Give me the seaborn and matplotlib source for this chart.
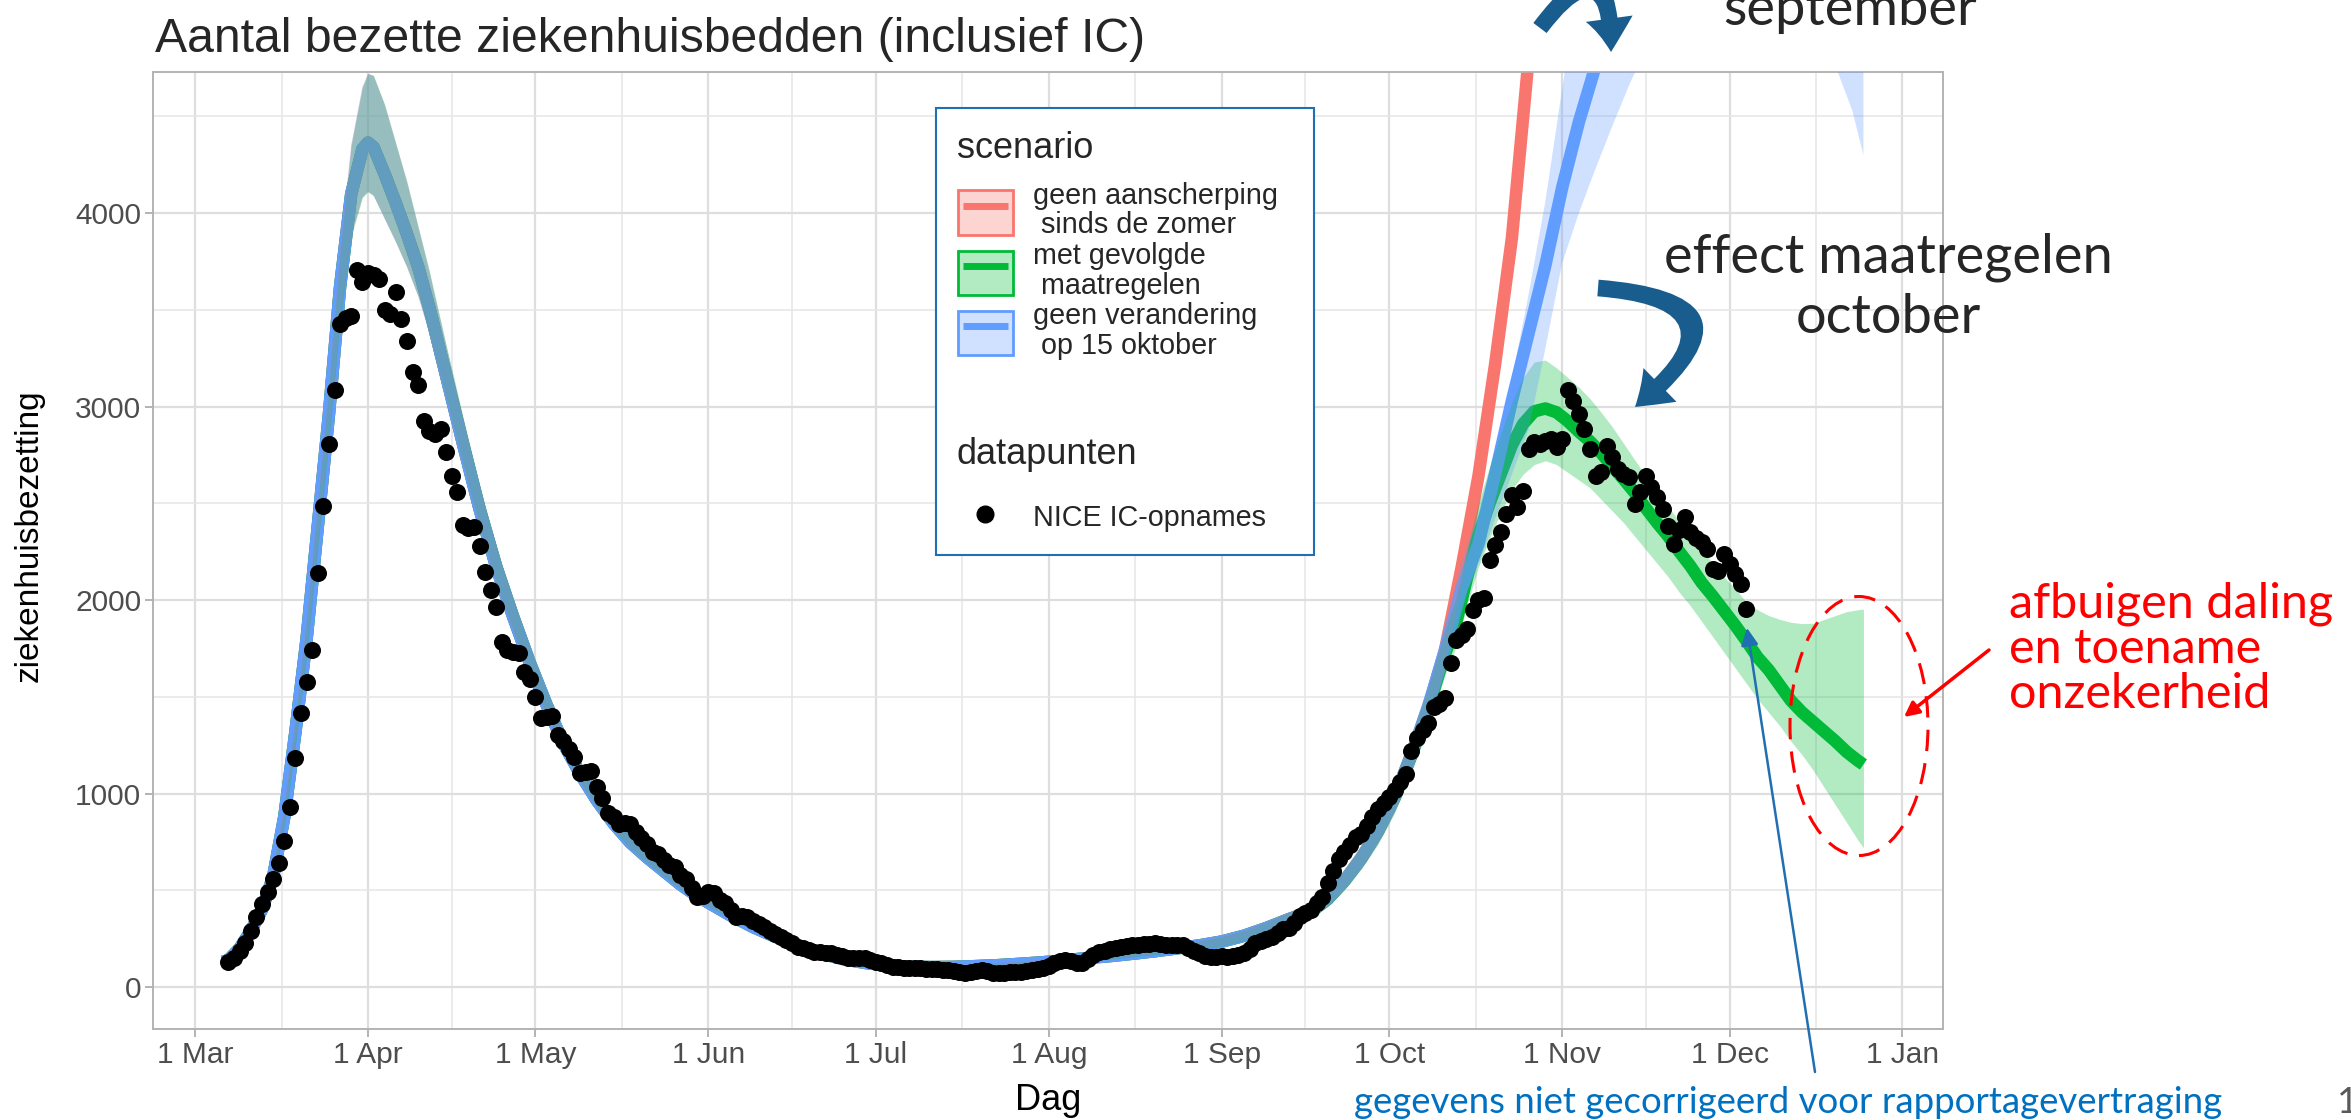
import pandas as pd
import seaborn as sns
import matplotlib.pyplot as plt
import matplotlib.dates as mdates
from matplotlib.colors import to_rgba
from matplotlib.lines import Line2D
from matplotlib.patches import Patch, Rectangle, Ellipse, FancyArrowPatch
from matplotlib.legend_handler import HandlerTuple, HandlerLine2D

W, H = 2351, 1120

# NICE IC-opnames, one value per day starting 7 March
nice_start = "2020-03-07"
nice_values = [
    130, 150, 185, 225, 290, 360, 430, 490, 560, 640,
    756, 931, 1182, 1415, 1578, 1741, 2139, 2485, 2806, 3087,
    3427, 3457, 3470, 3708, 3645, 3688, 3680, 3660, 3500, 3480,
    3590, 3450, 3340, 3180, 3110, 2925, 2875, 2860, 2885, 2765,
    2640, 2560, 2390, 2370, 2380, 2280, 2145, 2050, 1965, 1785,
    1740, 1730, 1725, 1630, 1590, 1500, 1390, 1395, 1400, 1300,
    1270, 1230, 1190, 1105, 1110, 1115, 1035, 975, 900, 880,
    840, 850, 845, 800, 768, 737, 699, 690, 656, 630,
    622, 578, 560, 510, 467, 470, 490, 484, 450, 433,
    400, 363, 365, 363, 340, 325, 312, 290, 275, 260,
    245, 225, 208, 200, 190, 182, 180, 176, 174, 168,
    160, 152, 148, 150, 148, 140, 131, 125, 115, 105,
    103, 100, 98, 97, 97, 95, 94, 92, 90, 88,
    85, 78, 71, 78, 85, 88, 82, 75, 71, 73,
    76, 78, 79, 84, 90, 95, 97, 110, 125, 135,
    140, 132, 125, 122, 145, 165, 182, 188, 195, 200,
    205, 212, 217, 217, 220, 223, 225, 222, 218, 217,
    215, 217, 200, 185, 174, 160, 157, 157, 158, 157,
    162, 168, 174, 195, 225, 240, 250, 260, 280, 300,
    303, 330, 368, 385, 398, 433, 467, 540, 600, 660,
    700, 733, 773, 790, 830, 880, 921, 951, 981, 1020,
    1060, 1099, 1218, 1287, 1326, 1366, 1445, 1465, 1494, 1672,
    1791, 1820, 1850, 1949, 1998, 2010, 2206, 2285, 2354, 2443,
    2542, 2482, 2561, 2781, 2816, 2808, 2824, 2833, 2790, 2833,
    3083, 3031, 2962, 2884, 2781, 2643, 2660, 2798, 2738, 2678,
    2650, 2634, 2497, 2560, 2643, 2583, 2531, 2471, 2385, 2290,
    2360, 2428, 2350, 2320, 2298, 2264, 2160, 2152, 2238, 2186,
    2135, 2083, 1954,
]

# model runs: day offsets from 1 March, shared part until early October
model_start = "2020-03-01"
shared_day = [5, 6, 8, 10, 12, 14, 16, 18, 20, 22,
              24, 26, 28, 30, 31, 32, 34, 36, 38, 40,
              42, 45, 48, 51, 54, 57, 60, 63, 66, 69,
              72, 75, 78, 81, 84, 87, 90, 93, 96, 100,
              104, 108, 112, 116, 120, 124, 128, 132, 136, 140,
              144, 148, 152, 156, 160, 164, 168, 172, 176, 180,
              184, 188, 192, 196, 200, 203, 206, 209, 212, 215]
shared_mid = [130, 140, 200, 290, 400, 570, 880, 1320, 1800, 2380,
              2960, 3620, 4100, 4330, 4364, 4340, 4200, 4050, 3890, 3720,
              3510, 3160, 2810, 2470, 2170, 1915, 1676, 1459, 1260, 1103,
              965, 846, 747, 670, 600, 530, 470, 420, 370, 310,
              260, 210, 175, 145, 125, 112, 105, 103, 104, 108,
              113, 120, 128, 138, 150, 160, 172, 185, 200, 215,
              235, 265, 305, 350, 390, 455, 550, 665, 805, 980]
shared_lo = [115, 124, 180, 265, 370, 530, 830, 1250, 1710, 2270,
             2820, 3440, 3880, 4080, 4110, 4090, 3970, 3850, 3720, 3570,
             3380, 3050, 2710, 2380, 2090, 1845, 1615, 1405, 1210, 1060,
             925, 810, 715, 640, 572, 505, 447, 400, 352, 294,
             246, 198, 165, 136, 117, 104, 97, 95, 96, 99,
             103, 109, 116, 125, 136, 145, 156, 168, 181, 194,
             212, 240, 277, 318, 355, 415, 502, 608, 738, 900]
shared_hi = [145, 156, 222, 318, 435, 615, 935, 1390, 1900, 2500,
             3110, 3800, 4350, 4650, 4720, 4710, 4560, 4360, 4160, 3930,
             3700, 3320, 2950, 2590, 2275, 2005, 1755, 1530, 1320, 1155,
             1010, 885, 782, 702, 630, 557, 494, 442, 390, 327,
             275, 223, 186, 155, 134, 121, 114, 112, 113, 118,
             124, 132, 141, 152, 165, 176, 189, 204, 221, 238,
             260, 292, 335, 385, 430, 500, 602, 728, 880, 1070]

red_day = [218, 221, 224, 227, 230, 233, 236, 239, 242, 246, 250, 260, 270, 280, 290, 299]
red_mid = [1200, 1440, 1740, 2170, 2640, 3220, 3870, 4800, 5800, 7200, 8600, 11000, 13000, 14000, 14500, 14800]
red_lo = [1110, 1350, 1640, 2060, 2510, 3070, 3690, 4580, 5500, 6800, 8100, 10300, 12100, 13000, 13400, 13600]
red_hi = [1300, 1540, 1850, 2290, 2780, 3380, 4060, 5030, 6100, 7600, 9100, 11700, 13900, 15000, 15600, 16000]

green_day = [218, 221, 224, 226, 228, 230, 232, 234, 236, 238,
             240, 242, 244, 246, 248, 250, 252, 254, 256, 258,
             260, 262, 264, 266, 268, 270, 272, 274, 276, 278,
             280, 282, 284, 286, 288, 290, 292, 294, 296, 298, 299]
green_mid = [1200, 1440, 1720, 1880, 2120, 2330, 2500, 2650, 2800, 2910,
             2975, 2990, 2970, 2925, 2870, 2820, 2760, 2690, 2625, 2555,
             2475, 2400, 2330, 2250, 2175, 2090, 2020, 1945, 1870, 1790,
             1705, 1640, 1560, 1480, 1420, 1370, 1320, 1270, 1215, 1170, 1150]
green_lo = [1110, 1340, 1610, 1760, 1980, 2170, 2320, 2450, 2570, 2650,
            2700, 2720, 2700, 2660, 2620, 2580, 2520, 2460, 2400, 2330,
            2260, 2190, 2120, 2040, 1970, 1890, 1810, 1730, 1650, 1570,
            1490, 1420, 1350, 1270, 1200, 1120, 1030, 940, 850, 760, 720]
green_hi = [1300, 1550, 1840, 2010, 2270, 2500, 2690, 2860, 3020, 3150,
            3230, 3240, 3200, 3150, 3100, 3040, 2970, 2895, 2810, 2725,
            2640, 2560, 2480, 2410, 2340, 2260, 2190, 2120, 2060, 1990,
            1950, 1920, 1900, 1885, 1878, 1880, 1900, 1920, 1940, 1950, 1953]

blue_day = [218, 221, 224, 227, 230, 233, 236, 239, 242, 245, 248, 251,
            254, 257, 260, 265, 270, 275, 280, 285, 290, 294, 297, 299]
blue_mid = [1200, 1450, 1740, 2060, 2290, 2650, 3030, 3380, 3730, 4130, 4470, 4760,
            5050, 5330, 5600, 6050, 6500, 6900, 7200, 7400, 7600, 7700, 7750, 7800]
blue_lo = [1110, 1350, 1640, 1980, 2180, 2420, 2650, 2880, 3300, 3740, 4000, 4230,
           4450, 4660, 4850, 5050, 5180, 5250, 5230, 5120, 4950, 4760, 4530, 4300]
blue_hi = [1300, 1560, 1860, 2200, 2450, 2780, 3140, 3580, 4060, 4640, 5200, 5800,
           6300, 6800, 7500, 8200, 9000, 9500, 10000, 10300, 10500, 10650, 10750, 10800]

scenario_labels = ["geen aanscherping\n sinds de zomer",
                   "met gevolgde\n maatregelen",
                   "geen verandering\n op 15 oktober"]
scenario_colors = ["#F8766D", "#00BA38", "#619CFF"]
scenario_parts = [(red_day, red_mid, red_lo, red_hi),
                  (green_day, green_mid, green_lo, green_hi),
                  (blue_day, blue_mid, blue_lo, blue_hi)]

# build one long table for seaborn
frames = []
for label, (d, m, lo, hi) in zip(scenario_labels, scenario_parts):
    frames.append(pd.DataFrame({
        "day": shared_day + d,
        "mid": shared_mid + m,
        "lo": shared_lo + lo,
        "hi": shared_hi + hi,
        "scenario": label,
    }))
model = pd.concat(frames, ignore_index=True)
model["date"] = pd.Timestamp(model_start) + pd.to_timedelta(model["day"], unit="D")

nice = pd.DataFrame({"date": pd.date_range(nice_start, periods=len(nice_values), freq="D"),
                     "value": nice_values})


def fx(px):
    return px / W


def fy(py):
    return 1 - py / H


class ShortLine(HandlerLine2D):
    # legend line a bit shorter than the key box, like ggplot
    def get_xdata(self, legend, xdescent, ydescent, width, height, fontsize):
        x0 = -xdescent + 0.09 * width
        x1 = -xdescent + 0.91 * width
        return [x0, x1], [(x0 + x1) / 2]


sns.set_theme(style="whitegrid")
plt.rcParams["font.family"] = ["Liberation Sans", "DejaVu Sans"]
note_font = ["Lato", "DejaVu Sans"]

fig = plt.figure(figsize=(W / 100, H / 100), dpi=100)
ax = fig.add_axes([fx(153), fy(1029), 1790 / W, 957 / H])
ax.set_facecolor("white")

palette = dict(zip(scenario_labels, scenario_colors))
sns.lineplot(data=model, x="date", y="mid", hue="scenario", hue_order=scenario_labels,
             palette=palette, estimator=None, sort=False, linewidth=9,
             legend=False, ax=ax, zorder=2, solid_capstyle="butt")
for label, color in zip(scenario_labels, scenario_colors):
    sub = model[model["scenario"] == label]
    ax.fill_between(sub["date"], sub["lo"], sub["hi"], color=color, alpha=0.3,
                    linewidth=0, zorder=3)
sns.scatterplot(data=nice, x="date", y="value", color="black", s=150, linewidth=0,
                ax=ax, zorder=5)

# axes, ticks and grid
t0 = pd.Timestamp(model_start)
ax.set_xlim(t0 - pd.Timedelta(days=7.53), t0 + pd.Timedelta(days=313.26))
ax.set_ylim(-217, 4729)
month_starts = pd.date_range("2020-03-01", "2021-01-01", freq="MS")
ax.xaxis.set_major_locator(mdates.MonthLocator(bymonthday=1))
ax.xaxis.set_major_formatter(mdates.DateFormatter("%-d %b"))
mids = [a + (b - a) / 2 for a, b in zip(month_starts[:-1], month_starts[1:])]
ax.xaxis.set_minor_locator(plt.FixedLocator(mdates.date2num(mids)))
ax.set_yticks([0, 1000, 2000, 3000, 4000])
ax.set_yticks([500, 1500, 2500, 3500, 4500], minor=True)
ax.grid(which="major", color="#DEDEDE", linewidth=1.6)
ax.grid(which="minor", color="#E6E6E6", linewidth=1.1)
ax.set_axisbelow(True)
ax.tick_params(which="major", length=5.5, width=1.4, color="#B3B3B3",
               labelsize=21.5, labelcolor="#4D4D4D", pad=3, bottom=True, left=True)
ax.tick_params(which="minor", length=0)
for sp in ax.spines.values():
    sp.set_color("#B3B3B3")
    sp.set_linewidth(1.4)

ax.set_xlabel("Dag", fontsize=26, color="black")
ax.set_ylabel("ziekenhuisbezetting", fontsize=24, color="black")
ax.xaxis.set_label_coords(0.5, (1029 - 1083) / 957)
ax.yaxis.set_label_coords((45 - 153) / 1790, 0.515)

fig.text(fx(155), fy(52), "Aantal bezette ziekenhuisbedden (inclusief IC)",
         fontsize=34.7, va="baseline")

# legend block
fig.add_artist(Rectangle((fx(936), fy(555)), 378 / W, 447 / H, transform=fig.transFigure,
                         facecolor="white", edgecolor="#1F6FB2", linewidth=1.5, zorder=4))
fig.text(fx(957), fy(148), "scenario", fontsize=26, va="center", zorder=6)
fig.text(fx(957), fy(455), "datapunten", fontsize=26, va="center", zorder=6)
handles = [(Patch(facecolor=to_rgba(c, 0.3), edgecolor=c, linewidth=2),
            Line2D([], [], color=c, linewidth=5, solid_capstyle="butt")) for c in scenario_colors]
leg1 = fig.legend(handles, scenario_labels, loc="upper left",
                  bbox_to_anchor=(fx(957.7), fy(182)), frameon=False, fontsize=20.7,
                  handlelength=1.92, handleheight=1.98, handletextpad=0.7,
                  labelspacing=0.1, borderpad=0, borderaxespad=0,
                  handler_map={tuple: HandlerTuple(ndivide=1, pad=0), Line2D: ShortLine()})
for t in leg1.get_texts():
    t.set_linespacing(1.06)
leg1.set_zorder(6)
dot = Line2D([], [], marker="o", color="black", linestyle="", markersize=12)
leg2 = fig.legend([dot], ["NICE IC-opnames"], loc="upper left",
                  bbox_to_anchor=(fx(957.7), fy(503)), frameon=False, fontsize=20.7,
                  handlelength=1.92, handleheight=1.0, handletextpad=0.7,
                  borderpad=0, borderaxespad=0)
leg2.set_zorder(6)

# annotations
arrow_blue = "#195C8E"
fig.text(fx(1850), fy(25), "september", fontsize=39, family=note_font, ha="center", va="baseline")
fig.text(fx(1888), fy(273), "effect maatregelen", fontsize=39, family=note_font, ha="center", va="baseline")
fig.text(fx(1888), fy(333), "october", fontsize=39, family=note_font, ha="center", va="baseline")
for a, b, rad in [((1540, 28), (1611, 52), -1.5), ((1598, 288), (1635, 407), -1.25)]:
    fig.add_artist(FancyArrowPatch((fx(a[0]), fy(a[1])), (fx(b[0]), fy(b[1])),
                                   transform=fig.transFigure,
                                   connectionstyle=f"arc3,rad={rad}",
                                   arrowstyle="simple,head_length=24,head_width=34,tail_width=12",
                                   mutation_scale=1, color=arrow_blue, linewidth=0,
                                   shrinkA=0, shrinkB=0, zorder=7))

fig.add_artist(Ellipse((fx(1859), fy(726)), 138 / W, 259 / H, transform=fig.transFigure,
                       fill=False, edgecolor="red", linewidth=2.2, linestyle=(0, (7, 4)), zorder=7))
fig.add_artist(FancyArrowPatch((fx(1989), fy(650)), (fx(1904), fy(717)), transform=fig.transFigure,
                               arrowstyle="-|>", mutation_scale=22, color="red", linewidth=2.5,
                               shrinkA=0, shrinkB=0, zorder=7))
for i, line in enumerate(["afbuigen daling", "en toename", "onzekerheid"]):
    fig.text(fx(2009), fy(618 + 45 * i), line, fontsize=35, family=note_font,
             color="red", va="baseline")

fig.add_artist(FancyArrowPatch((fx(1815), fy(1072)), (fx(1747), fy(628)), transform=fig.transFigure,
                               arrowstyle="-|>", mutation_scale=26, color="#1F6FB2", linewidth=1.8,
                               shrinkA=0, shrinkB=0, zorder=7))
fig.text(fx(1354), fy(1113), "gegevens niet gecorrigeerd voor rapportagevertraging",
         fontsize=26.4, family=note_font, color="#0070C0", va="baseline")
fig.text(fx(2337), fy(1113), "1", fontsize=26.4, family=note_font, color="#595959", va="baseline")

fig.savefig("out.png", dpi=100)
